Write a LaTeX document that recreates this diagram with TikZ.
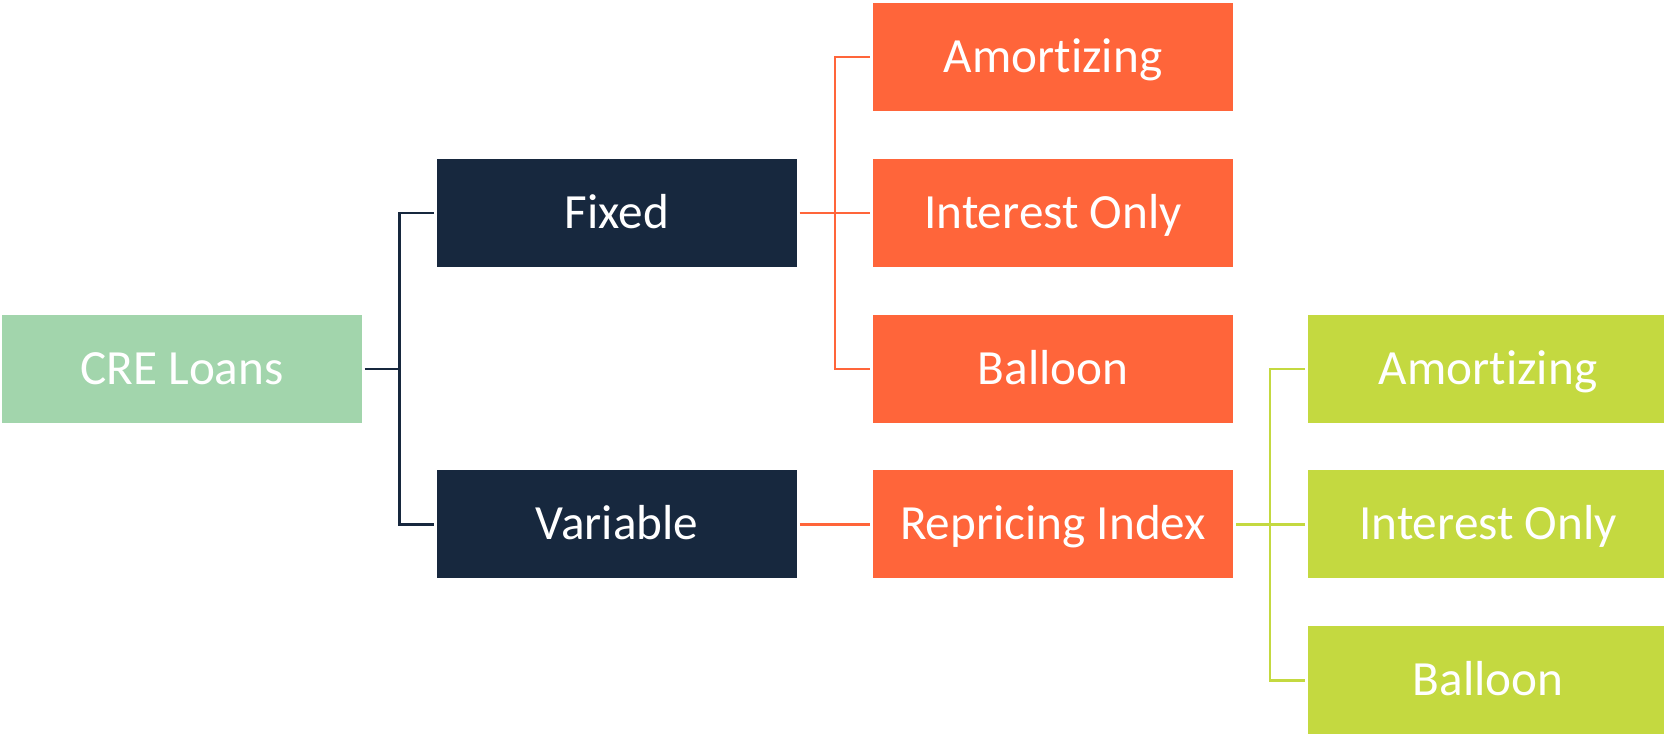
\documentclass[tikz,border=0pt]{standalone}
\usepackage{fontspec}
\setmainfont[RawFeature={-liga;-clig;-calt;-dlig}]{Carlito}

\definecolor{mint}{HTML}{A2D5AC}
\definecolor{navy}{HTML}{17283E}
\definecolor{coral}{HTML}{FF653A}
\definecolor{lime}{HTML}{C4D940}

\begin{document}
\begin{tikzpicture}[
    box/.style={rectangle,minimum width=7.2cm,minimum height=2.16cm,
      text height=18pt,text depth=0pt,
      outer sep=1.7pt,text=white,font=\fontsize{28}{32}\selectfont},
    link/.style={line width=1.7pt}]
  \useasboundingbox (0,0) rectangle (33.28,-14.72);
  % first level
  \node[box,fill=mint] (cre) at (3.64,-7.38) {CRE Loans};
  \node[box,fill=navy] (fixed) at (12.34,-4.26) {Fixed};
  \node[box,fill=navy] (variable) at (12.34,-10.48) {Variable};
  \draw[link,navy] (cre.east) -- ++(0.7,0) |- (fixed.west);
  \draw[link,navy] (cre.east) -- ++(0.7,0) |- (variable.west);
  %
  \node[box,fill=coral] (famort) at (21.06,-1.14) {Amortizing};
  \node[box,fill=coral] (fint) at (21.06,-4.26) {Interest Only};
  \node[box,fill=coral] (fballoon) at (21.06,-7.38) {Balloon};
  \node[box,fill=coral] (index) at (21.06,-10.48) {Repricing Index};
  \draw[link,coral] (fixed.east) -- ++(0.7,0) |- (famort.west);
  \draw[link,coral] (fixed.east) -- (fint.west);
  \draw[link,coral] (fixed.east) -- ++(0.7,0) |- (fballoon.west);
  \draw[link,coral] (variable.east) -- (index.west);
  %
  \node[box,fill=lime] (vamort) at (29.76,-7.38) {Amortizing};
  \node[box,fill=lime] (vint) at (29.76,-10.48) {Interest Only};
  \node[box,fill=lime] (vballoon) at (29.76,-13.6) {Balloon};
  \draw[link,lime] (index.east) -- ++(0.68,0) |- (vamort.west);
  \draw[link,lime] (index.east) -- (vint.west);
  \draw[link,lime] (index.east) -- ++(0.68,0) |- (vballoon.west);
\end{tikzpicture}
\end{document}
